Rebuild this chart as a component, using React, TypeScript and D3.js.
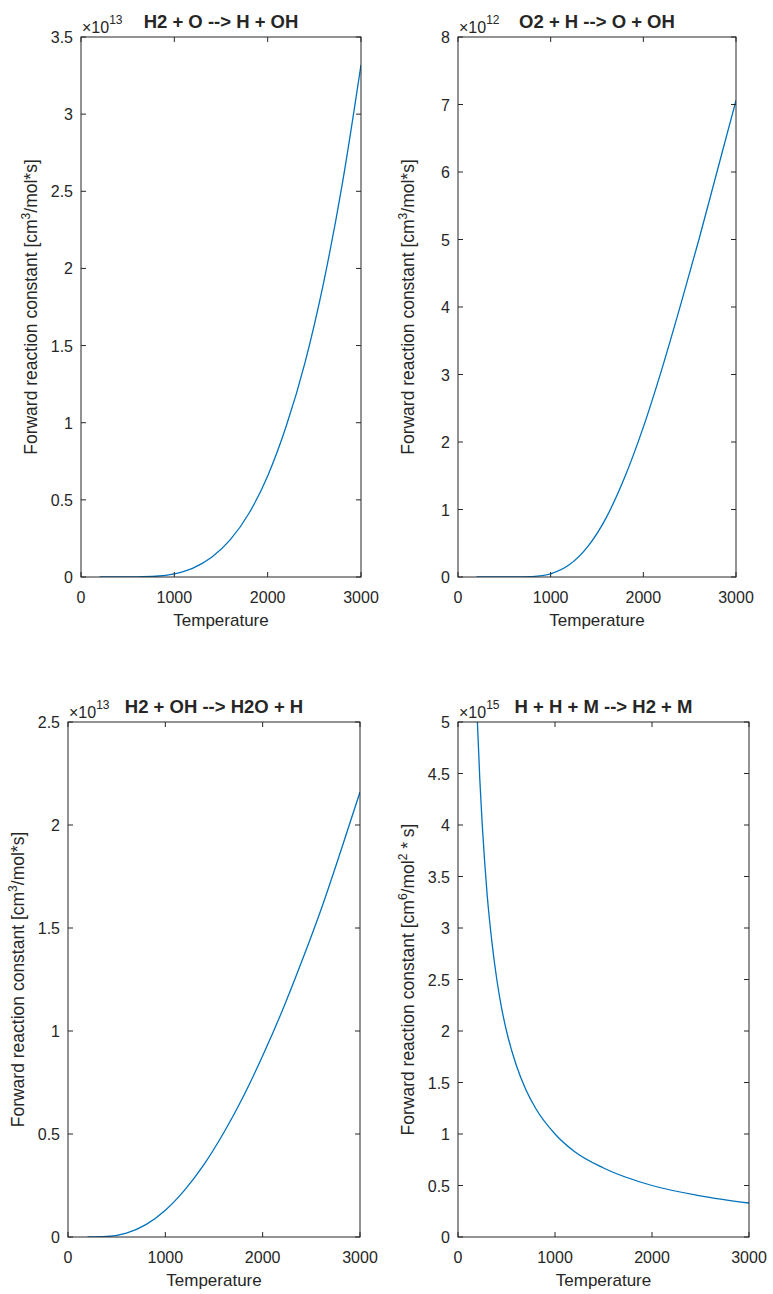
import React from "react";
import * as d3 from "d3";

// temperatures used for the three Arrhenius-type curves
const temps = [200, 400, 600, 800, 1000, 1200, 1400, 1600, 1800, 2000, 2200, 2400, 2600, 2800, 3000];

// H2 + O --> H + OH  (x 1e13)
const h2oValues = [0, 0, 0.001, 0.005, 0.021, 0.058, 0.128, 0.242, 0.413, 0.655, 0.98, 1.39, 1.91, 2.55, 3.32];
// O2 + H --> O + OH  (x 1e12)
const o2hValues = [0, 0, 0, 0.007, 0.048, 0.18, 0.45, 0.88, 1.48, 2.22, 3.08, 4.02, 5.0, 6.03, 7.06];
// H2 + OH --> H2O + H  (x 1e13)
const h2ohValues = [0, 0.0025, 0.019, 0.06, 0.13, 0.229, 0.354, 0.506, 0.681, 0.88, 1.097, 1.336, 1.59, 1.87, 2.16];

// H + H + M --> H2 + M  (x 1e15)
const recombTemps = [200, 225, 250, 275, 300, 350, 400, 450, 500, 600, 700, 800, 1000, 1200, 1500, 2000, 2500, 3000];
const recombValues = [5.0, 4.44, 4.0, 3.64, 3.33, 2.86, 2.5, 2.22, 2.0, 1.67, 1.43, 1.25, 1.0, 0.83, 0.67, 0.5, 0.4, 0.33];

const xTicks = [0, 1000, 2000, 3000];
const h2oTicks = [0, 0.5, 1, 1.5, 2, 2.5, 3, 3.5];
const o2hTicks = [0, 1, 2, 3, 4, 5, 6, 7, 8];
const h2ohTicks = [0, 0.5, 1, 1.5, 2, 2.5];
const recombTicks = [0, 0.5, 1, 1.5, 2, 2.5, 3, 3.5, 4, 4.5, 5];

const INK = "#262626";
const LINE = "#0072BD";
const FONT = "'Liberation Sans', Arial, Helvetica, sans-serif";

type PanelProps = {
  id: string;
  box: { left: number; right: number; top: number; bottom: number };
  xs: number[];
  ys: number[];
  yTicks: number[];
  exponent: string;
  title: string;
  unit: React.ReactNode;
};

function Panel({ id, box, xs, ys, yTicks, exponent, title, unit }: PanelProps) {
  const { left, right, top, bottom } = box;
  const x = d3.scaleLinear().domain([0, 3000]).range([left, right]);
  const yMax = yTicks[yTicks.length - 1];
  const y = d3.scaleLinear().domain([0, yMax]).range([bottom, top]);
  const line = d3
    .line<number>()
    .x((_, i) => x(xs[i]))
    .y((d) => y(d))
    .curve(d3.curveMonotoneX);
  const tl = 5;
  const cx = (left + right) / 2;
  const cy = (top + bottom) / 2;

  return (
    <g fontFamily={FONT} fill={INK}>
      <clipPath id={id}>
        <rect x={left} y={top} width={right - left} height={bottom - top} />
      </clipPath>
      <path d={line(ys) ?? ""} fill="none" stroke={LINE} strokeWidth={1.3} clipPath={`url(#${id})`} />
      <rect x={left} y={top} width={right - left} height={bottom - top} fill="none" stroke={INK} strokeWidth={1} />
      {xTicks.map((t) => (
        <g key={"x" + t}>
          <line x1={x(t)} x2={x(t)} y1={bottom} y2={bottom - tl} stroke={INK} />
          <line x1={x(t)} x2={x(t)} y1={top} y2={top + tl} stroke={INK} />
          <text x={x(t)} y={bottom + 26} textAnchor="middle" fontSize={16}>
            {t}
          </text>
        </g>
      ))}
      {yTicks.map((t) => (
        <g key={"y" + t}>
          <line x1={left} x2={left + tl} y1={y(t)} y2={y(t)} stroke={INK} />
          <line x1={right} x2={right - tl} y1={y(t)} y2={y(t)} stroke={INK} />
          <text x={left - 8} y={y(t) + 6} textAnchor="end" fontSize={16}>
            {t}
          </text>
        </g>
      ))}
      <text x={cx} y={bottom + 49} textAnchor="middle" fontSize={17}>
        Temperature
      </text>
      <text transform={`translate(${left - 44},${cy}) rotate(-90)`} textAnchor="middle" fontSize={17.5}>
        {unit}
      </text>
      <text x={left + 1} y={top - 4} fontSize={16}>
        ×10<tspan dy={-9} fontSize={12}>{exponent}</tspan>
      </text>
      <text x={cx} y={top - 9} textAnchor="middle" fontSize={18.5} fontWeight="bold">
        {title}
      </text>
    </g>
  );
}

const unit3 = (
  <>
    Forward reaction constant [cm<tspan dy={-7} fontSize={12}>3</tspan>
    <tspan dy={7}>/mol*s]</tspan>
  </>
);
const unit6 = (
  <>
    Forward reaction constant [cm<tspan dy={-7} fontSize={12}>6</tspan>
    <tspan dy={7}>/mol</tspan>
    <tspan dy={-7} fontSize={12}>2</tspan>
    <tspan dy={7}> * s]</tspan>
  </>
);

export default function App() {
  return (
    <svg
      width={773}
      height={1294}
      style={{ position: "absolute", left: 0, top: 0, background: "#fff" }}
    >
      <rect width={773} height={1294} fill="#fff" />
      <Panel
        id="c1"
        box={{ left: 81, right: 361, top: 37, bottom: 577 }}
        xs={temps}
        ys={h2oValues}
        yTicks={h2oTicks}
        exponent="13"
        title="H2 + O --> H + OH"
        unit={unit3}
      />
      <Panel
        id="c2"
        box={{ left: 458, right: 736, top: 37, bottom: 577 }}
        xs={temps}
        ys={o2hValues}
        yTicks={o2hTicks}
        exponent="12"
        title="O2 + H --> O + OH"
        unit={unit3}
      />
      <Panel
        id="c3"
        box={{ left: 68, right: 360, top: 722, bottom: 1237 }}
        xs={temps}
        ys={h2ohValues}
        yTicks={h2ohTicks}
        exponent="13"
        title="H2 + OH --> H2O + H"
        unit={unit3}
      />
      <Panel
        id="c4"
        box={{ left: 458, right: 749, top: 722, bottom: 1237 }}
        xs={recombTemps}
        ys={recombValues}
        yTicks={recombTicks}
        exponent="15"
        title="H + H + M --> H2 + M"
        unit={unit6}
      />
    </svg>
  );
}
